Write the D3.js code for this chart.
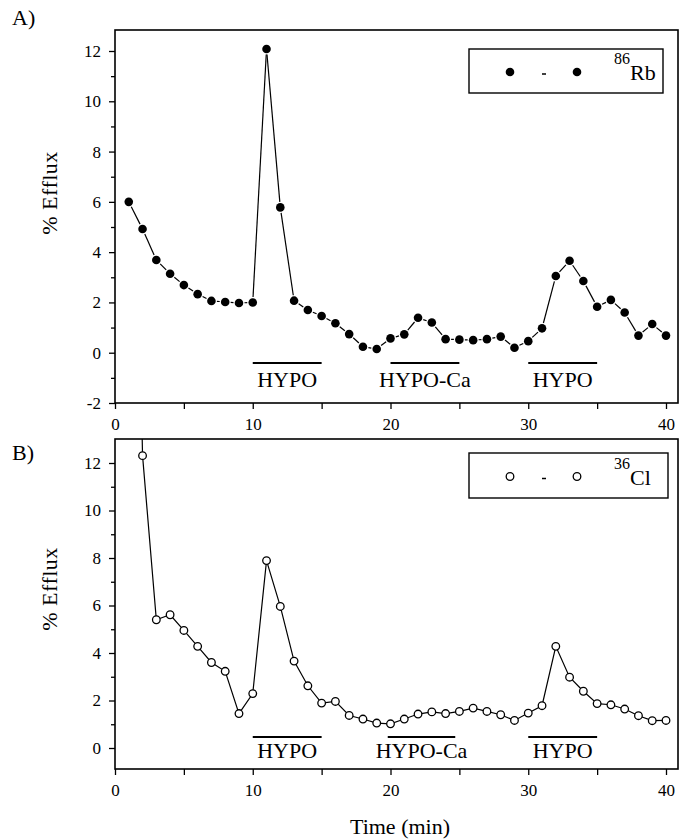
<!DOCTYPE html>
<html>
<head>
<meta charset="utf-8">
<script src="https://cdn.jsdelivr.net/npm/d3@7"></script>
<style>
  body { margin: 0; background: white; }
  svg text { font-family: "Liberation Serif", "DejaVu Serif", serif; fill: black; }
</style>
</head>
<body>
<svg id="chart" width="689" height="839"></svg>
<script>
// time points (min)
let time = [1, 2, 3, 4, 5, 6, 7, 8, 9, 10, 11, 12, 13, 14, 15, 16, 17, 18, 19, 20,
  21, 22, 23, 24, 25, 26, 27, 28, 29, 30, 31, 32, 33, 34, 35, 36, 37, 38, 39, 40];

// 86Rb efflux (%)
let rbEfflux = [6.0, 4.92, 3.69, 3.14, 2.69, 2.33, 2.06, 2.02, 1.98, 2.0,
  12.08, 5.78, 2.07, 1.7, 1.46, 1.17, 0.74, 0.24, 0.15, 0.57,
  0.73, 1.39, 1.2, 0.54, 0.52, 0.5, 0.54, 0.64, 0.2, 0.46,
  0.97, 3.05, 3.66, 2.85, 1.83, 2.1, 1.6, 0.68, 1.14, 0.68];

// 36Cl efflux (%), first point is off scale
let clEfflux = [40, 12.31, 5.4, 5.61, 4.95, 4.28, 3.6, 3.23, 1.45, 2.29,
  7.89, 5.96, 3.66, 2.62, 1.89, 1.96, 1.37, 1.22, 1.05, 1.02,
  1.22, 1.43, 1.52, 1.45, 1.54, 1.68, 1.54, 1.4, 1.16, 1.47,
  1.78, 4.28, 2.98, 2.39, 1.87, 1.82, 1.64, 1.36, 1.15, 1.16];

// treatment periods
let periodsA = [
  { start: 10, end: 15, label: "HYPO" },
  { start: 20, end: 25, label: "HYPO-Ca" },
  { start: 30, end: 35, label: "HYPO" }
];
let periodsB = [
  { start: 10, end: 15, label: "HYPO" },
  { start: 19.8, end: 24.7, label: "HYPO-Ca" },
  { start: 30, end: 35, label: "HYPO" }
];

let xTicks = [0, 10, 20, 30, 40];
let xMinorTicks = [5, 15, 25, 35];
let yTicksA = [-2, 0, 2, 4, 6, 8, 10, 12];
let yMinorA = [-1, 1, 3, 5, 7, 9, 11];
let yTicksB = [0, 2, 4, 6, 8, 10, 12];
let yMinorB = [-1, 1, 3, 5, 7, 9, 11];

let svg = d3.select("#chart");

let frameLeft = 115, frameRight = 678;
let x = d3.scaleLinear().domain([0, 40]).range([115, 666]);

let panels = [
  {
    id: "A", tag: "A)", tagY: 25,
    top: 30, bottom: 403,
    y: d3.scaleLinear().domain([-2, 12]).range([403, 51]),
    yTicks: yTicksA, yMinor: yMinorA,
    values: rbEfflux, filled: true,
    periods: periodsA, barY: 363, labelY: 387,
    labelCenter: 193,
    legend: { x0: 469, x1: 663, y0: 49, y1: 93, sup: "86", name: "Rb" }
  },
  {
    id: "B", tag: "B)", tagY: 460,
    top: 439, bottom: 769,
    y: d3.scaleLinear().domain([0, 12]).range([748, 463]),
    yTicks: yTicksB, yMinor: yMinorB,
    values: clEfflux, filled: false,
    periods: periodsB, barY: 737, labelY: 758,
    labelCenter: 589,
    legend: { x0: 469, x1: 668, y0: 453, y1: 498, sup: "36", name: "Cl" }
  }
];

panels.forEach(function (p) {
  let g = svg.append("g").attr("class", "panel-" + p.id);
  let data = time.map((t, i) => ({ t: t, v: p.values[i] }));

  g.append("text")
    .attr("x", 12)
    .attr("y", p.tagY)
    .style("font-size", "22px")
    .text(p.tag);

  // frame
  g.append("rect")
    .attr("x", frameLeft)
    .attr("y", p.top)
    .attr("width", frameRight - frameLeft)
    .attr("height", p.bottom - p.top)
    .attr("fill", "none")
    .attr("stroke", "black")
    .attr("stroke-width", 1.6);

  // y axis
  let yAxis = g.append("g")
    .attr("transform", `translate(${frameLeft},0)`)
    .call(d3.axisLeft(p.y).tickValues(p.yTicks).tickSize(6).tickPadding(8));
  yAxis.select(".domain").remove();
  yAxis.selectAll("text")
    .style("font-size", "17px")
    .text(d => d < 0 ? "-" + Math.abs(d) : d);

  let yMinorAxis = g.append("g")
    .attr("transform", `translate(${frameLeft},0)`)
    .call(d3.axisLeft(p.y)
      .tickValues(p.yMinor.filter(v => p.y(v) <= p.bottom && p.y(v) >= p.top))
      .tickSize(4).tickFormat(""));
  yMinorAxis.select(".domain").remove();

  // x axis
  let xAxis = g.append("g")
    .attr("transform", `translate(0,${p.bottom})`)
    .call(d3.axisBottom(x).tickValues(xTicks).tickSize(6).tickPadding(9));
  xAxis.select(".domain").remove();
  xAxis.selectAll("text")
    .style("font-size", "17px");

  let xMinorAxis = g.append("g")
    .attr("transform", `translate(0,${p.bottom})`)
    .call(d3.axisBottom(x).tickValues(xMinorTicks).tickSize(6).tickFormat(""));
  xMinorAxis.select(".domain").remove();

  g.selectAll(".tick line").attr("stroke-width", 1.3);

  // y label
  g.append("text")
    .attr("transform", `translate(57,${p.labelCenter}) rotate(-90)`)
    .attr("text-anchor", "middle")
    .style("font-size", "22px")
    .attr("letter-spacing", "0.5px")
    .text("% Efflux");

  // clip to the frame
  let clipId = "clip-" + p.id;
  g.append("clipPath")
    .attr("id", clipId)
    .append("rect")
    .attr("x", frameLeft)
    .attr("y", p.top)
    .attr("width", frameRight - frameLeft)
    .attr("height", p.bottom - p.top);

  let plot = g.append("g").attr("clip-path", `url(#${clipId})`);

  if (p.filled) {
    // broken segments that stop short of each dot
    let gap = 5.5;
    let segs = d3.pairs(data).map(function ([a, b]) {
      let x1 = x(a.t), y1 = p.y(a.v), x2 = x(b.t), y2 = p.y(b.v);
      let len = Math.hypot(x2 - x1, y2 - y1);
      let ux = (x2 - x1) / len, uy = (y2 - y1) / len;
      return { x1: x1 + ux * gap, y1: y1 + uy * gap, x2: x2 - ux * gap, y2: y2 - uy * gap, ok: len > 2 * gap };
    }).filter(s => s.ok);

    plot.selectAll(".seg")
      .data(segs)
      .enter().append("line")
      .attr("class", "seg")
      .attr("x1", d => d.x1).attr("y1", d => d.y1)
      .attr("x2", d => d.x2).attr("y2", d => d.y2)
      .attr("stroke", "black")
      .attr("stroke-width", 1.2);

    plot.selectAll(".dot")
      .data(data)
      .enter().append("circle")
      .attr("class", "dot")
      .attr("cx", d => x(d.t))
      .attr("cy", d => p.y(d.v))
      .attr("r", 4.3)
      .attr("fill", "black");
  } else {
    let line = d3.line().x(d => x(d.t)).y(d => p.y(d.v));
    plot.append("path")
      .datum(data)
      .attr("d", line)
      .attr("fill", "none")
      .attr("stroke", "black")
      .attr("stroke-width", 1.2);

    plot.selectAll(".dot")
      .data(data.filter(d => p.y(d.v) > p.top))
      .enter().append("circle")
      .attr("class", "dot")
      .attr("cx", d => x(d.t))
      .attr("cy", d => p.y(d.v))
      .attr("r", 3.8)
      .attr("fill", "white")
      .attr("stroke", "black")
      .attr("stroke-width", 1.3);
  }

  // treatment bars
  g.selectAll(".period")
    .data(p.periods)
    .enter().append("line")
    .attr("class", "period")
    .attr("x1", d => x(d.start))
    .attr("x2", d => x(d.end))
    .attr("y1", p.barY)
    .attr("y2", p.barY)
    .attr("stroke", "black")
    .attr("stroke-width", 2);

  g.selectAll(".period-label")
    .data(p.periods)
    .enter().append("text")
    .attr("class", "period-label")
    .attr("x", d => (x(d.start) + x(d.end)) / 2)
    .attr("y", p.labelY)
    .attr("text-anchor", "middle")
    .style("font-size", "22px")
    .text(d => d.label);

  // legend
  let lg = p.legend;
  let midY = (lg.y0 + lg.y1) / 2 + 1;
  g.append("rect")
    .attr("x", lg.x0)
    .attr("y", lg.y0)
    .attr("width", lg.x1 - lg.x0)
    .attr("height", lg.y1 - lg.y0)
    .attr("fill", "white")
    .attr("stroke", "black")
    .attr("stroke-width", 1.4);

  g.selectAll(".legend-dot")
    .data([510, 577])
    .enter().append("circle")
    .attr("class", "legend-dot")
    .attr("cx", d => d)
    .attr("cy", midY)
    .attr("r", p.filled ? 4.3 : 3.8)
    .attr("fill", p.filled ? "black" : "white")
    .attr("stroke", "black")
    .attr("stroke-width", p.filled ? 0 : 1.3);

  g.append("line")
    .attr("x1", 542).attr("x2", 546)
    .attr("y1", midY + 2).attr("y2", midY + 2)
    .attr("stroke", "black")
    .attr("stroke-width", 1.5);

  g.append("text")
    .attr("x", 614)
    .attr("y", midY - 8)
    .style("font-size", "16px")
    .text(lg.sup);

  g.append("text")
    .attr("x", 630)
    .attr("y", midY + 8)
    .style("font-size", "22px")
    .text(lg.name);
});

svg.append("text")
  .attr("x", 400)
  .attr("y", 834)
  .attr("text-anchor", "middle")
  .style("font-size", "22px")
  .text("Time (min)");
</script>
</body>
</html>
